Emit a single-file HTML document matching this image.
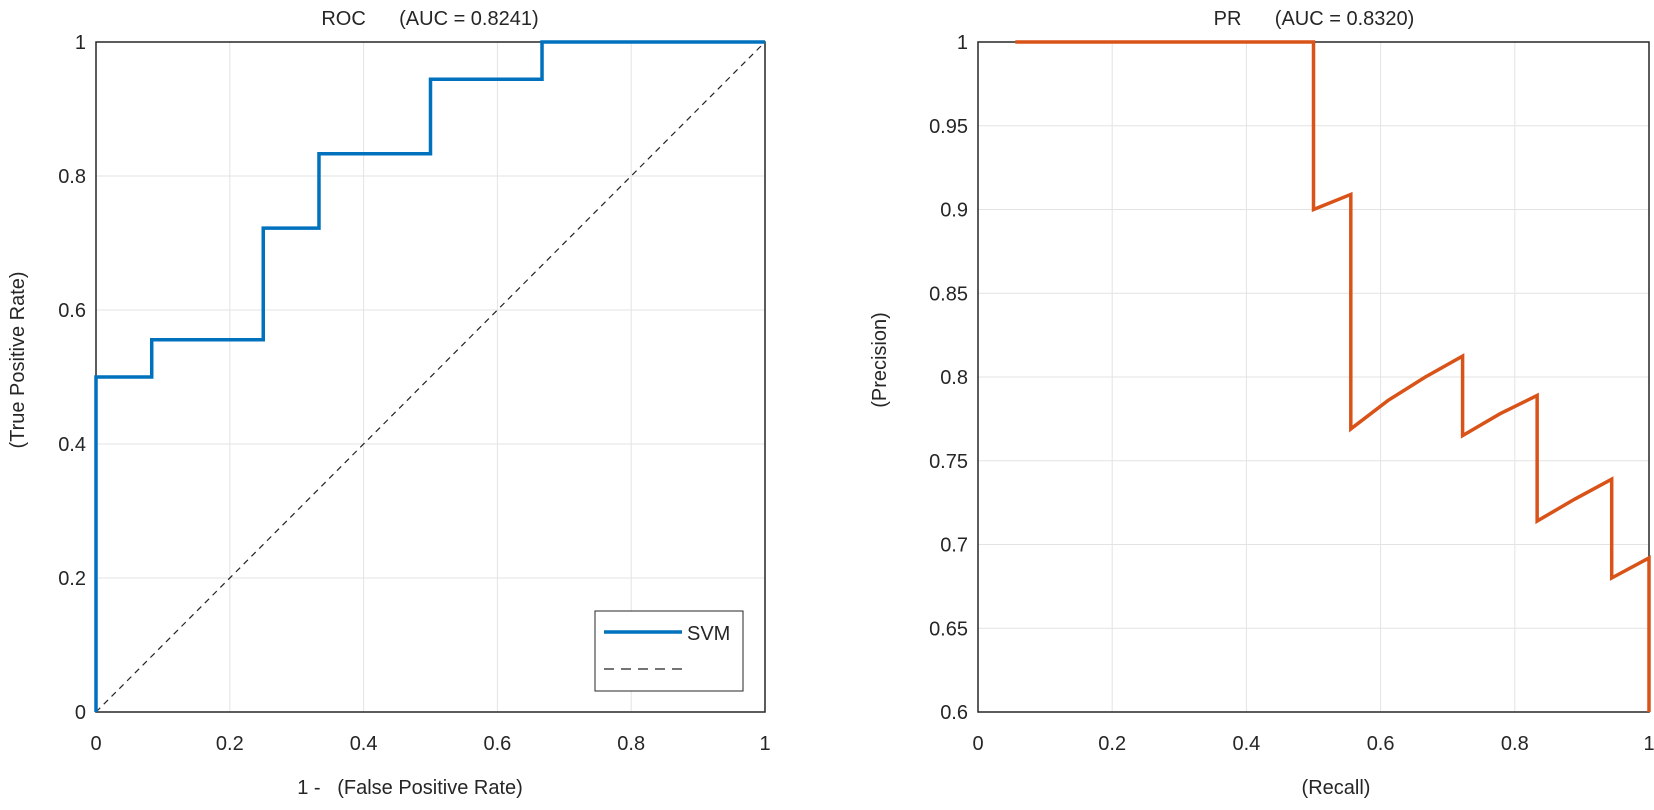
<!DOCTYPE html>
<html><head><meta charset="utf-8"><style>
body{margin:0;background:#fff;}
svg text{font-family:"Liberation Sans",sans-serif;fill:#262626;}
</style></head><body>
<svg id="c" width="1654" height="805" xmlns="http://www.w3.org/2000/svg"></svg>
<script>
const rocX=[0,0,0.0833,0.0833,0.25,0.25,0.3333,0.3333,0.5,0.5,0.6667,0.6667,1];
const rocY=[0,0.5,0.5,0.5556,0.5556,0.7222,0.7222,0.8333,0.8333,0.9444,0.9444,1,1];
const prX=[0.0556,0.5,0.5,0.5556,0.5556,0.6111,0.6667,0.7222,0.7222,0.7778,0.8333,0.8333,0.8889,0.9444,0.9444,1,1];
const prY=[1,1,0.9,0.909,0.769,0.786,0.8,0.8125,0.765,0.778,0.789,0.714,0.727,0.739,0.68,0.692,0.6];
const rocXTicks=[0,0.2,0.4,0.6,0.8,1];
const rocYTicks=[0,0.2,0.4,0.6,0.8,1];
const prXTicks=[0,0.2,0.4,0.6,0.8,1];
const prYTicks=[0.6,0.65,0.7,0.75,0.8,0.85,0.9,0.95,1];
const NS='http://www.w3.org/2000/svg';
const svg=document.getElementById('c');
function mk(t,a,p){const e=document.createElementNS(NS,t);for(const k in a)e.setAttribute(k,a[k]);(p||svg).appendChild(e);return e;}
function axes(name,L,R,T,B,xmin,xmax,ymin,ymax,xt,yt){
  const g=mk('g',{});
  
  
  const sx=v=>L+(v-xmin)/(xmax-xmin)*(R-L);
  const sy=v=>B-(v-ymin)/(ymax-ymin)*(B-T);
  mk('rect',{x:L,y:T,width:R-L,height:B-T,fill:'#fff'},g);
  xt.forEach(v=>{const l=mk('line',{x1:sx(v),x2:sx(v),y1:T,y2:B,stroke:'#e3e3e3','stroke-width':1},g);
    
    const t=mk('text',{x:sx(v),y:B+38,'text-anchor':'middle','font-size':20},g);t.textContent=String(v);
    });
  yt.forEach(v=>{const l=mk('line',{x1:L,x2:R,y1:sy(v),y2:sy(v),stroke:'#e3e3e3','stroke-width':1},g);
    
    const t=mk('text',{x:L-10,y:sy(v)+7,'text-anchor':'end','font-size':20},g);t.textContent=String(v);
    });
  mk('rect',{x:L,y:T,width:R-L,height:B-T,fill:'none',stroke:'#262626','stroke-width':1.5},g);
  return {sx,sy,g};
}
// ROC
const A=axes('roc-axes',96,765,42,712,0,1,0,1,rocXTicks,rocYTicks);
let d=mk('line',{x1:A.sx(0),y1:A.sy(0),x2:A.sx(1),y2:A.sy(1),stroke:'#222','stroke-width':1.2,'stroke-dasharray':'6,5'});

let p=mk('polyline',{points:rocX.map((x,i)=>A.sx(x)+','+A.sy(rocY[i])).join(' '),fill:'none',stroke:'#0072bd','stroke-width':3.5});

// legend
const lg=mk('g',{});
mk('rect',{x:595,y:611,width:148,height:80,fill:'#fff',stroke:'#262626','stroke-width':1},lg);
mk('line',{x1:604,x2:682,y1:632,y2:632,stroke:'#0072bd','stroke-width':3.5},lg);
let lt=mk('text',{x:687,y:640,'font-size':20},lg);lt.textContent='SVM';
mk('line',{x1:604,x2:682,y1:669,y2:669,stroke:'#222','stroke-width':1.2,'stroke-dasharray':'10,7'},lg);
// PR
const B=axes('pr-axes',978,1649,42,712,0,1,0.6,1,prXTicks,prYTicks);
p=mk('polyline',{points:prX.map((x,i)=>B.sx(x)+','+B.sy(prY[i])).join(' '),fill:'none',stroke:'#d95319','stroke-width':3.5});

// titles and labels
function txt(name,s,x,y,rot){const t=mk('text',{x:x,y:y,'text-anchor':'middle','font-size':20,transform:rot?`rotate(-90 ${x} ${y})`:''});t.textContent=s;t.style.whiteSpace='pre';return t;}
txt('roc-title','ROC      (AUC = 0.8241)',430,25);
txt('pr-title','PR      (AUC = 0.8320)',1314,25);
txt('roc-x-axis-title','1 -   (False Positive Rate)',410,794);
txt('pr-x-axis-title','(Recall)',1336,794);
txt('roc-y-axis-title','(True Positive Rate)',24,360,true);
txt('pr-y-axis-title','(Precision)',886,360,true);
</script>
</body></html>
